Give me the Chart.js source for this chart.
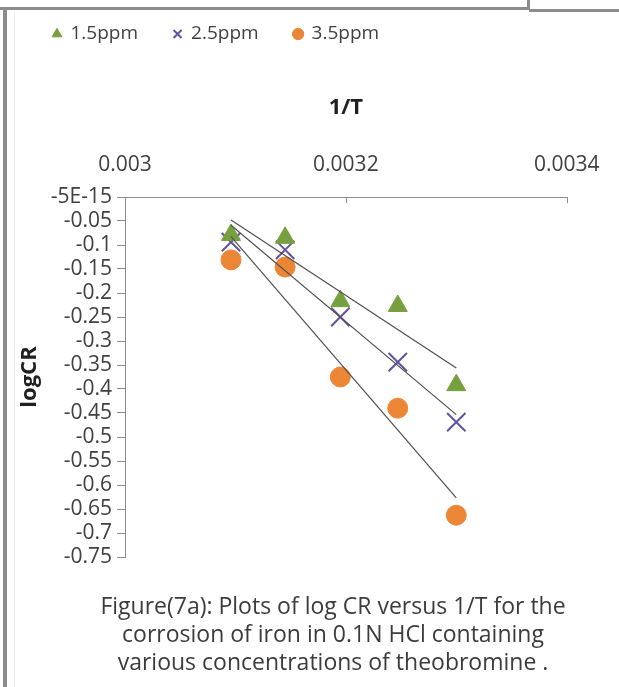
<!DOCTYPE html>
<html>
<head>
<meta charset="utf-8">
<script src="https://cdn.jsdelivr.net/npm/chart.js@4/dist/chart.umd.min.js"></script>
<style>
  html, body { margin: 0; padding: 0; background: #fff; }
  #wrap { position: relative; width: 619px; height: 687px; overflow: hidden; background: #fff; }
  #c { position: absolute; left: 0; top: 0; }
  .ln { position: absolute; background: #8c8c8c; }
  #caption { position: absolute; left: 23px; top: 591px; width: 620px; text-align: center;
    font-family: "Open Sans", "Liberation Sans", sans-serif; font-size: 23px; line-height: 28px; color: #3c3c3c; }
</style>
</head>
<body>
<div id="wrap">
  <canvas id="c" width="619" height="687"></canvas>
  <div class="ln" style="left:0;top:7px;width:529px;height:3px;"></div>
  <div class="ln" style="left:529px;top:9px;width:90px;height:3px;"></div>
  <div class="ln" style="left:527px;top:0;width:3px;height:10px;"></div>
  <div class="ln" style="left:3px;top:9px;width:4px;height:678px;"></div>
  <div class="ln" style="left:14px;top:12px;width:1px;height:675px;background:#ececec;"></div>
  <div id="caption">Figure(7a): Plots of log CR versus 1/T for the<br>corrosion of iron in 0.1N HCl containing<br>various concentrations of theobromine .</div>
</div>
<script>
// ---- data ----
const seriesNames = ['1.5ppm', '2.5ppm', '3.5ppm'];
const invT = [0.003096, 0.003145, 0.003195, 0.003247, 0.0033];
const logCR_15 = [-0.079, -0.085, -0.217, -0.227, -0.392];
const logCR_25 = [-0.094, -0.110, -0.250, -0.344, -0.469];
const logCR_35 = [-0.131, -0.146, -0.375, -0.440, -0.663];
const xTickLabels = ['0.003', '0.0032', '0.0034'];
const yTickLabels = ['-0.75','-0.7','-0.65','-0.6','-0.55','-0.5','-0.45','-0.4','-0.35','-0.3','-0.25','-0.2','-0.15','-0.1','-0.05','-5E-15'];

const colors = ['#76A03E', '#6253A0', '#EC8637'];
const styles = ['triangle', 'crossRot', 'circle'];
const radii = [11, 13, 10];
const allY = [logCR_15, logCR_25, logCR_35];

function fit(xs, ys) {
  const n = xs.length;
  const mx = xs.reduce((a, b) => a + b, 0) / n;
  const my = ys.reduce((a, b) => a + b, 0) / n;
  let sxy = 0, sxx = 0;
  for (let i = 0; i < n; i++) { sxy += (xs[i] - mx) * (ys[i] - my); sxx += (xs[i] - mx) ** 2; }
  const b = sxy / sxx, a = my - b * mx;
  const x0 = xs[0], x1 = xs[n - 1];
  return [{ x: x0, y: a + b * x0 }, { x: x1, y: a + b * x1 }];
}

const datasets = [];
allY.forEach((ys, i) => {
  datasets.push({
    label: seriesNames[i],
    data: invT.map((x, j) => ({ x, y: ys[j] })),
    pointStyle: styles[i],
    pointRadius: radii[i],
    pointHoverRadius: radii[i],
    backgroundColor: colors[i],
    borderColor: colors[i],
    pointBorderWidth: i === 1 ? 2 : 1,
    showLine: false,
    order: 1
  });
});
allY.forEach((ys, i) => {
  datasets.push({
    label: 'fit' + i,
    data: fit(invT, ys),
    showLine: true,
    borderColor: '#505050',
    borderWidth: 1.2,
    pointRadius: 0,
    fill: false,
    order: 0
  });
});

const inwardTicks = {
  id: 'inwardTicks',
  afterDraw(chart) {
    const xs = chart.scales.x, ctx = chart.ctx, top = chart.chartArea.top;
    ctx.save();
    ctx.strokeStyle = '#8c8c8c';
    ctx.lineWidth = 1;
    xs.ticks.forEach((t, i) => {
      if (i === 0) return;
      const px = Math.round(xs.getPixelForValue(t.value)) + 0.5;
      ctx.beginPath(); ctx.moveTo(px, top); ctx.lineTo(px, top + 6); ctx.stroke();
    });
    ctx.restore();
  }
};

const fontFam = '"Open Sans", "Liberation Sans", sans-serif';

new Chart(document.getElementById('c'), {
  type: 'scatter',
  data: { datasets },
  plugins: [inwardTicks],
  options: {
    responsive: false,
    animation: false,
    events: [],
    layout: { padding: { top: -11, left: 17.5, right: 46, bottom: 130 } },
    plugins: {
      tooltip: { enabled: false },
      legend: {
        position: 'top',
        align: 'start',
        labels: {
          usePointStyle: true,
          boxWidth: 8,
          boxHeight: 8,
          padding: 35.5,
          color: '#404040',
          font: { family: fontFam, size: 19 },
          filter: (item) => item.datasetIndex < 3
        }
      }
    },
    scales: {
      x: {
        type: 'linear',
        position: 'top',
        min: 0.003,
        max: 0.0034,
        afterBuildTicks: (s) => { s.ticks = [0.003, 0.0032, 0.0034].map(v => ({ value: v })); },
        afterFit: (s) => { s.height = 143.5; },
        ticks: {
          padding: 19.5,
          autoSkip: false,
          color: '#404040',
          maxRotation: 0,
          font: { family: fontFam, size: 21 },
          callback: (v, i) => xTickLabels[i]
        },
        grid: { drawOnChartArea: false, drawTicks: false },
        border: { display: true, color: '#8c8c8c', width: 1 },
        title: {
          display: true,
          text: '1/T',
          color: '#202020',
          font: { family: fontFam, size: 22, weight: 'bold' },
          padding: { top: 41, bottom: 0 }
        }
      },
      y: {
        type: 'linear',
        min: -0.75,
        max: 0,
        afterBuildTicks: (s) => { s.ticks = yTickLabels.map((_, i) => ({ value: -0.75 + i * 0.05 })); },
        afterFit: (s) => { s.width = 107.5; },
        ticks: {
          padding: 5,
          autoSkip: false,
          color: '#404040',
          font: { family: fontFam, size: 21 },
          callback: (v, i) => yTickLabels[i]
        },
        grid: { drawOnChartArea: false, drawTicks: true, tickLength: 8, color: '#8c8c8c' },
        border: { display: true, color: '#8c8c8c', width: 1 },
        title: {
          display: true,
          text: 'logCR',
          color: '#202020',
          font: { family: fontFam, size: 22, weight: 'bold' },
          padding: { top: -1, bottom: 0 }
        }
      }
    }
  }
});
</script>
</body>
</html>
